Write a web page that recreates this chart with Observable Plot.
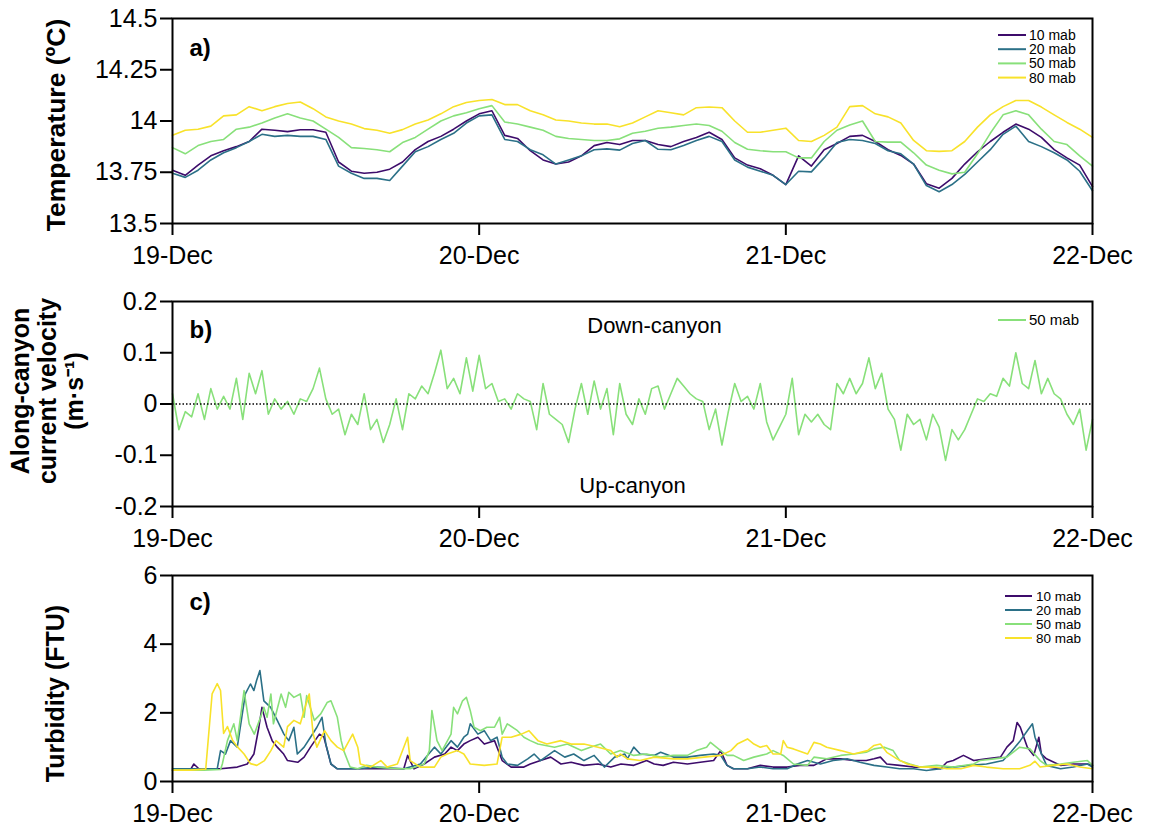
<!DOCTYPE html>
<html><head><meta charset="utf-8">
<script src="https://cdn.jsdelivr.net/npm/d3@7"></script>
<script src="https://cdn.jsdelivr.net/npm/@observablehq/plot@0.6"></script>
<style>
body{margin:0;background:#fff;}
#wrap{position:relative;width:1149px;height:834px;background:#fff;overflow:hidden;}
#wrap > *{position:absolute;left:0;}
</style></head><body><div id="wrap"></div>
<script>
// ---------- shared categories / tick labels ----------
const dayTicks = [0, 24, 48, 72];            // hours since 19-Dec 00:00
const dayLabels = ["19-Dec", "20-Dec", "21-Dec", "22-Dec"];
const seriesNames = ["10 mab", "20 mab", "50 mab", "80 mab"];
const seriesColors = ["#3d0c6b", "#2b7087", "#88e07a", "#f8e22a"];

// ---------- panel a: temperature (hourly values, 19-Dec 00h .. 22-Dec 00h) ----------
const tempTicks = [13.5, 13.75, 14, 14.25, 14.5];
const tempTickLabels = ["13.5", "13.75", "14", "14.25", "14.5"];
const temp10 = [13.76,13.735,13.785,13.83,13.855,13.875,13.9,13.96,13.955,13.948,13.957,13.957,13.945,13.8,13.755,13.745,13.75,13.765,13.8,13.86,13.9,13.925,13.96,14.0,14.035,14.05,13.93,13.915,13.855,13.81,13.79,13.8,13.83,13.88,13.895,13.885,13.905,13.905,13.885,13.875,13.9,13.92,13.945,13.91,13.82,13.785,13.767,13.735,13.69,13.83,13.78,13.86,13.89,13.925,13.93,13.9,13.86,13.832,13.79,13.694,13.672,13.72,13.79,13.85,13.9,13.945,13.985,13.96,13.92,13.86,13.82,13.785,13.68];
const temp20 = [13.745,13.725,13.76,13.81,13.845,13.87,13.9,13.935,13.925,13.93,13.925,13.925,13.91,13.78,13.745,13.72,13.72,13.71,13.78,13.85,13.875,13.91,13.94,13.99,14.025,14.03,13.91,13.9,13.86,13.835,13.79,13.81,13.83,13.86,13.864,13.858,13.89,13.905,13.862,13.86,13.88,13.905,13.925,13.9,13.81,13.775,13.755,13.735,13.69,13.755,13.752,13.82,13.895,13.91,13.905,13.89,13.855,13.84,13.79,13.685,13.655,13.69,13.74,13.8,13.86,13.935,13.975,13.9,13.875,13.845,13.81,13.755,13.66];
const temp50 = [13.87,13.84,13.88,13.9,13.91,13.96,13.97,13.99,14.015,14.035,14.015,14.0,13.96,13.92,13.87,13.866,13.86,13.85,13.895,13.92,13.96,14.0,14.025,14.04,14.06,14.075,13.995,13.985,13.97,13.955,13.925,13.915,13.91,13.905,13.905,13.913,13.94,13.95,13.965,13.97,13.978,13.985,13.978,13.95,13.895,13.862,13.855,13.85,13.85,13.82,13.82,13.9,13.955,13.98,14.0,13.9,13.897,13.897,13.845,13.785,13.76,13.742,13.75,13.84,13.94,14.03,14.05,14.03,13.96,13.9,13.885,13.83,13.78];
const temp80 = [13.93,13.955,13.96,13.975,14.025,14.03,14.07,14.05,14.07,14.085,14.093,14.06,14.02,14.0,13.985,13.963,13.955,13.94,13.958,13.985,14.005,14.035,14.07,14.09,14.1,14.105,14.08,14.08,14.05,14.03,14.005,14.0,13.99,13.985,13.985,13.972,13.99,14.02,14.05,14.04,14.03,14.065,14.068,14.065,14.0,13.945,13.945,13.955,13.965,13.905,13.9,13.93,13.97,14.07,14.075,14.035,14.02,13.99,13.905,13.855,13.852,13.855,13.9,13.97,14.03,14.07,14.1,14.1,14.068,14.03,13.993,13.96,13.92];

// ---------- panel b: along-canyon velocity, 50 mab (half-hourly) ----------
const velTicks = [-0.2, -0.1, 0, 0.1, 0.2];
const velTickLabels = ["-0.2", "-0.1", "0", "0.1", "0.2"];
const vel50 = [0.02,-0.05,-0.015,-0.025,0.02,-0.03,0.03,-0.01,0.015,-0.01,0.05,-0.03,0.06,0.02,0.065,-0.02,0.01,-0.01,0.005,-0.02,0.01,0.005,0.03,0.07,0.01,-0.02,-0.01,-0.06,-0.02,-0.04,0.02,-0.05,-0.03,-0.075,-0.04,0.01,-0.05,0.02,0.01,0.035,0.02,0.06,0.105,0.03,0.05,0.02,0.09,0.025,
0.095,0.03,0.04,0.005,0.01,-0.01,0.02,0.01,0.005,-0.05,0.04,-0.02,-0.03,-0.04,-0.075,-0.01,0.04,-0.02,0.045,-0.01,0.03,-0.06,0.04,-0.02,
-0.04,0.01,-0.02,0.03,0.035,-0.01,0.02,0.05,0.035,0.02,0.01,0.005,-0.05,-0.01,-0.08,-0.015,0.04,0.005,0.015,-0.01,0.04,-0.035,-0.07,-0.045,-0.02,0.05,-0.06,-0.02,-0.035,-0.02,-0.04,-0.05,0.04,0.02,0.05,0.02,0.04,0.09,0.03,0.06,-0.01,-0.03,-0.09,-0.02,-0.04,-0.03,-0.07,-0.02,-0.045,-0.11,-0.05,-0.07,-0.05,-0.02,0.01,0.005,0.02,0.015,0.05,0.035,0.1,0.04,0.03,0.085,0.02,0.05,0.02,0.01,-0.02,-0.04,-0.01,-0.09,-0.03];

// ---------- panel c: turbidity, [hour, FTU] ----------
const turbTicks = [0, 2, 4, 6];
const turbTickLabels = ["0", "2", "4", "6"];
const turb10 = [[0,0.33],[1.4,0.34],[1.67,0.51],[2.06,0.37],[3.76,0.37],[5.07,0.42],[5.85,0.51],[6.37,0.8],[6.76,1.58],[7.0,2.16],[7.4,1.58],[7.8,1.19],[8.2,1.0],[8.7,0.8],[9.0,0.61],[9.8,0.56],[10.3,0.71],[10.8,1.0],[11.5,1.38],[11.85,1.29],[12.4,0.51],[12.9,0.37],[15.5,0.37],[18.1,0.37],[18.4,0.76],[18.9,0.37],[19.7,0.51],[20.5,0.71],[21.3,0.8],[21.8,1.0],[22.3,0.9],[22.8,1.09],[23.3,1.19],[23.9,1.29],[24.4,1.09],[25.2,1.19],[25.8,0.61],[26.5,0.42],[27.5,0.42],[28.0,0.51],[28.8,0.61],[29.6,0.71],[30.4,0.51],[31.2,0.56],[32.2,0.47],[33.3,0.51],[34.3,0.42],[35.1,0.51],[36.1,0.47],[37.1,0.61],[37.7,0.51],[38.4,0.47],[39.2,0.56],[40.3,0.51],[41.3,0.56],[42.35,0.61],[42.9,0.9],[43.4,0.47],[43.9,0.37],[45.0,0.37],[46.0,0.47],[47.0,0.42],[48.1,0.42],[49.1,0.47],[50.2,0.47],[51.2,0.66],[52.3,0.66],[53.3,0.61],[54.3,0.61],[54.9,0.66],[55.4,0.71],[55.9,0.51],[56.9,0.47],[58.0,0.42],[59.0,0.42],[60.1,0.37],[60.6,0.56],[61.1,0.61],[61.9,0.76],[62.7,0.61],[63.7,0.66],[64.8,0.71],[65.3,1.0],[65.8,1.19],[66.1,1.72],[66.35,1.58],[66.9,1.0],[67.4,0.76],[67.8,1.29],[68.0,0.8],[68.4,0.66],[69.5,0.47],[70.5,0.51],[71.6,0.51],[72,0.47]];
const turb20 = [[0,0.37],[3.5,0.37],[3.76,0.9],[4.15,0.8],[4.54,1.19],[5.07,1.0],[5.7,2.55],[6.1,2.84],[6.37,2.65],[6.58,2.94],[6.84,3.23],[7.15,2.35],[7.68,2.16],[8.2,1.78],[8.72,1.38],[9.1,1.19],[9.5,1.58],[9.77,0.8],[10.3,1.0],[10.8,1.29],[11.3,1.58],[11.7,1.87],[12.0,1.09],[12.4,0.51],[12.9,0.37],[14.5,0.37],[16.0,0.42],[18.1,0.37],[19.4,0.51],[19.95,0.76],[20.5,1.0],[21.0,0.8],[21.8,1.19],[22.3,1.0],[22.8,1.29],[23.1,1.38],[23.3,1.68],[23.9,1.38],[24.4,1.48],[24.9,1.19],[25.4,1.29],[25.8,0.71],[26.2,0.51],[27.0,0.47],[27.8,0.66],[28.3,0.8],[28.8,0.61],[29.9,0.9],[30.7,0.71],[31.4,0.8],[32.2,0.61],[33.0,0.76],[33.8,0.42],[34.6,0.71],[35.4,0.8],[35.6,0.66],[36.1,1.0],[36.6,0.8],[37.7,0.76],[38.2,0.85],[39.2,0.71],[40.3,0.71],[41.3,0.76],[42.35,0.8],[42.9,0.76],[43.4,0.47],[43.9,0.37],[45.0,0.37],[46.0,0.42],[47.0,0.37],[48.1,0.37],[48.9,0.51],[49.7,0.61],[50.7,0.51],[51.7,0.61],[52.8,0.66],[53.8,0.56],[54.9,0.47],[55.9,0.42],[56.9,0.37],[58.0,0.37],[59.0,0.32],[60.1,0.37],[61.1,0.42],[62.4,0.47],[63.7,0.51],[65.0,0.61],[65.6,0.85],[66.35,1.19],[66.9,1.48],[67.3,1.68],[67.5,1.29],[67.9,0.9],[68.4,0.47],[69.5,0.37],[70.5,0.42],[71.6,0.51],[72,0.42]];
const turb50 = [[0,0.33],[2.45,0.33],[3.76,0.35],[3.9,0.51],[4.3,1.19],[4.8,1.68],[5.07,1.19],[5.6,2.65],[6.0,1.68],[6.4,1.38],[6.8,1.78],[7.15,2.16],[7.4,1.87],[7.7,2.55],[7.9,1.68],[8.5,2.55],[8.85,2.16],[9.1,2.6],[9.5,2.45],[10.0,2.55],[10.3,1.87],[10.5,2.5],[11.1,1.78],[11.6,1.97],[12.1,2.3],[12.4,2.35],[12.9,1.87],[13.2,1.19],[13.4,0.9],[13.9,0.42],[14.5,0.37],[15.2,0.47],[16.0,0.42],[17.6,0.37],[18.6,0.37],[19.7,0.51],[20.1,0.9],[20.3,2.07],[20.7,1.19],[21.1,0.9],[21.8,1.38],[22.0,2.16],[22.3,1.97],[22.7,2.35],[23.0,2.45],[23.3,2.07],[23.6,1.58],[24.1,1.48],[24.6,1.58],[25.2,1.58],[25.6,1.87],[25.8,1.38],[26.2,1.68],[27.0,1.48],[27.5,1.29],[28.0,1.19],[28.6,1.09],[29.9,1.0],[30.9,1.09],[32.0,0.9],[32.7,1.0],[33.5,1.09],[34.3,0.8],[35.05,0.9],[36.1,0.76],[37.1,0.8],[38.2,0.71],[39.2,0.76],[40.3,0.76],[41.0,0.9],[41.8,1.0],[42.1,1.14],[42.9,0.9],[43.4,0.76],[43.9,0.76],[44.7,0.61],[45.5,0.71],[46.5,0.8],[47.0,0.9],[47.8,0.76],[48.6,0.51],[49.7,0.47],[50.2,0.71],[51.2,0.66],[52.3,0.76],[53.3,0.8],[54.3,0.85],[54.9,0.95],[55.7,1.0],[56.4,0.9],[56.9,0.61],[57.7,0.51],[58.5,0.42],[59.8,0.47],[61.1,0.42],[62.7,0.51],[63.2,0.61],[64.3,0.66],[65.3,0.71],[66.3,1.0],[67.1,0.95],[67.9,0.61],[68.4,0.47],[69.5,0.51],[70.5,0.56],[71.6,0.61],[72,0.47]];
const turb80 = [[0,0.33],[1.4,0.33],[2.6,0.36],[3.1,2.55],[3.5,2.85],[3.76,2.65],[4.0,1.4],[4.3,1.6],[4.7,1.2],[5.1,1.0],[5.6,0.8],[6.1,0.52],[6.6,0.47],[7.2,0.61],[7.7,0.9],[8.1,1.19],[8.7,1.0],[9.0,1.6],[9.5,1.78],[10.0,1.68],[10.3,2.07],[10.7,2.55],[11.0,1.4],[11.3,1.0],[11.9,1.48],[12.4,1.19],[12.9,1.0],[13.4,0.9],[14.1,1.38],[14.5,1.0],[14.7,0.51],[15.5,0.42],[16.3,0.61],[16.8,0.42],[17.6,0.51],[18.4,1.29],[18.6,0.61],[19.4,0.42],[20.5,0.42],[21.0,0.71],[21.5,0.8],[22.3,0.9],[22.8,0.8],[23.3,0.51],[24.4,0.47],[25.4,0.51],[25.8,1.29],[26.5,1.29],[27.3,1.38],[27.9,1.48],[28.6,1.19],[29.3,1.09],[30.4,1.19],[31.2,1.09],[32.2,1.09],[33.3,1.0],[34.3,0.9],[34.8,0.71],[35.05,0.8],[35.6,0.66],[36.6,0.61],[37.7,0.71],[39.2,0.66],[40.3,0.66],[41.6,0.71],[42.9,0.76],[43.7,0.9],[44.2,1.09],[45.0,1.24],[45.5,1.09],[46.0,1.0],[46.5,1.05],[47.0,0.8],[47.6,0.8],[47.8,1.19],[48.1,1.0],[48.6,0.95],[49.7,0.8],[50.2,1.14],[50.7,1.09],[51.2,1.0],[52.3,0.9],[53.3,0.8],[54.4,0.9],[54.9,1.05],[55.4,1.09],[55.9,0.85],[56.7,0.66],[57.5,0.51],[58.5,0.42],[59.6,0.42],[60.6,0.37],[61.7,0.37],[62.7,0.47],[63.7,0.42],[65.0,0.37],[66.3,0.37],[67.1,0.47],[67.5,0.59],[67.9,0.42],[68.9,0.47],[70.0,0.51],[71.0,0.42],[72,0.37]];

// ---------- helpers ----------
const FONT = "'Liberation Sans', Arial, Helvetica, sans-serif";
const W = 1149, ML = 172, MR = 57;

function regular(values, series) {
  const n = values.length;
  return values.map((v, i) => ({h: i * 72 / (n - 1), v, s: series}));
}
function pairs(list, series) { return list.map(([h, v]) => ({h, v, s: series})); }

function xAxis() {
  return Plot.axisX(dayTicks, {tickSize: 12, tickPadding: 11, fontSize: 25, strokeWidth: 2,
    tickFormat: d => dayLabels[dayTicks.indexOf(d)], label: null});
}
function yAxis(ticks, labels) {
  return Plot.axisY(ticks, {tickSize: 12, tickPadding: 3, fontSize: 25, strokeWidth: 2,
    tickFormat: d => labels[ticks.indexOf(d)], label: null});
}
function legend(names, colors, o) {
  return (index, scales, values, dim) => {
    const right = dim.width - dim.marginRight;
    const g = d3.create("svg:g").attr("font-size", o.fontSize).attr("font-family", FONT)
      .attr("fill", "#000").attr("text-anchor", "start");
    names.forEach((n, i) => {
      const y = dim.marginTop + o.top + i * o.row;
      g.append("line").attr("x1", right - o.x1).attr("x2", right - o.x2)
        .attr("y1", y).attr("y2", y).attr("stroke", colors[i]).attr("stroke-width", 2);
      g.append("text").attr("x", right - o.tx).attr("y", y).attr("dy", "0.35em")
        .attr("text-anchor", "start").text(n);
    });
    return g.node();
  };
}
function panelLabel(t, dy) {
  return Plot.text([t], {text: d => d, frameAnchor: "top-left", dx: 17, dy, fontSize: 24,
    fontWeight: "bold", textAnchor: "start", lineAnchor: "middle"});
}
function yTitle(t, dx, dy, fs) {
  return Plot.text([t], {text: d => d, frameAnchor: "left", dx, dy, rotate: -90, fontSize: fs,
    fontWeight: "bold", textAnchor: "middle", lineAnchor: "middle", lineHeight: 1.08});
}
const colorScale = {domain: seriesNames, range: seriesColors};
const style = {fontFamily: FONT, background: "transparent", overflow: "visible", color: "#000"};
const wrap = document.getElementById("wrap");
function place(el, top) { el.style.top = top + "px"; wrap.appendChild(el); }

// ---------- panel a ----------
const tempData = [
  ...regular(temp10, "10 mab"), ...regular(temp20, "20 mab"),
  ...regular(temp50, "50 mab"), ...regular(temp80, "80 mab")
];
const pa = Plot.plot({
  width: W, height: 280, marginLeft: ML, marginRight: MR, marginTop: 18, marginBottom: 57,
  style,
  x: {domain: [0, 72]}, y: {domain: [13.5, 14.5]}, color: colorScale,
  marks: [
    Plot.lineY(tempData, {x: "h", y: "v", z: "s", stroke: "s", strokeWidth: 1.6}),
    Plot.frame({strokeWidth: 2}),
    xAxis(), yAxis(tempTicks, tempTickLabels),
    panelLabel("a)", 30),
    yTitle("Temperature (ºC)", -117, 4, 26.5),
    legend(seriesNames, seriesColors, {fontSize: 14, top: 17, row: 14.2, x1: 94, x2: 66, tx: 63})
  ]
});
place(pa, 0);

// ---------- panel b ----------
const velData = regular(vel50, "50 mab");
const pb = Plot.plot({
  width: W, height: 280, marginLeft: ML, marginRight: MR, marginTop: 21, marginBottom: 54,
  style,
  x: {domain: [0, 72]}, y: {domain: [-0.2, 0.2]},
  marks: [
    Plot.lineY(velData, {x: "h", y: "v", stroke: seriesColors[2], strokeWidth: 1.6}),
    Plot.ruleY([0], {stroke: "#000", strokeWidth: 1.5, strokeDasharray: "1.5,2"}),
    Plot.frame({strokeWidth: 2}),
    xAxis(), yAxis(velTicks, velTickLabels),
    panelLabel("b)", 29),
    Plot.text(["Down-canyon"], {text: d => d, frameAnchor: "top", dx: 22, dy: 24, fontSize: 22, lineAnchor: "middle"}),
    Plot.text(["Up-canyon"], {text: d => d, frameAnchor: "bottom", dx: 0, dy: -21, fontSize: 22, lineAnchor: "middle"}),
    yTitle("Along-canyon\ncurrent velocity\n(m·s⁻¹)", -125, -13, 25),
    legend([seriesNames[2]], [seriesColors[2]], {fontSize: 15, top: 19, row: 14, x1: 94, x2: 66, tx: 63})
  ]
});
place(pb, 280);

// ---------- panel c ----------
const turbData = [
  ...pairs(turb10, "10 mab"), ...pairs(turb20, "20 mab"),
  ...pairs(turb50, "50 mab"), ...pairs(turb80, "80 mab")
];
const pc = Plot.plot({
  width: W, height: 279, marginLeft: ML, marginRight: MR, marginTop: 20, marginBottom: 53,
  style,
  x: {domain: [0, 72]}, y: {domain: [0, 6]}, color: colorScale,
  marks: [
    Plot.lineY(turbData, {x: "h", y: "v", z: "s", stroke: "s", strokeWidth: 1.6}),
    Plot.frame({strokeWidth: 2}),
    xAxis(), yAxis(turbTicks, turbTickLabels),
    panelLabel("c)", 27),
    yTitle("Turbidity (FTU)", -117, 15, 25),
    legend(seriesNames, seriesColors, {fontSize: 13.5, top: 21, row: 14, x1: 87, x2: 60, tx: 56})
  ]
});
place(pc, 555);
</script>
</body></html>
